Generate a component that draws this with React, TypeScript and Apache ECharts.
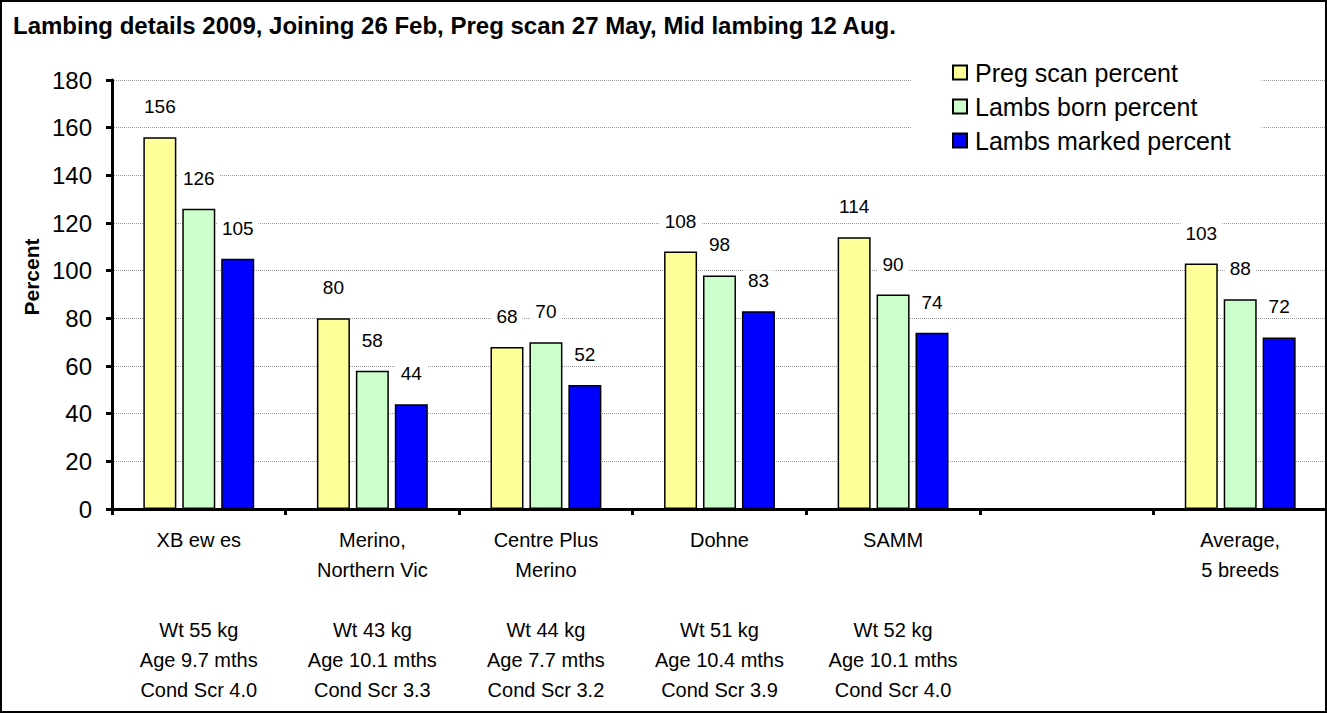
import React, { useEffect, useRef } from "react";
import * as echarts from "echarts";

const categories = [
  "XB ew es\n\n\nWt 55 kg\nAge 9.7 mths\nCond Scr 4.0",
  "Merino,\nNorthern Vic\n\nWt 43 kg\nAge 10.1 mths\nCond Scr 3.3",
  "Centre Plus\nMerino\n\nWt 44 kg\nAge 7.7 mths\nCond Scr 3.2",
  "Dohne\n\n\nWt 51 kg\nAge 10.4 mths\nCond Scr 3.9",
  "SAMM\n\n\nWt 52 kg\nAge 10.1 mths\nCond Scr 4.0",
  "",
  "Average,\n5 breeds\n\n\n\n",
];
const pregScan = [156, 80, 68, 108, 114, null, 103];
const lambsBorn = [126, 58, 70, 98, 90, null, 88];
const lambsMarked = [105, 44, 52, 83, 74, null, 72];
const seriesNames = ["Preg scan percent", "Lambs born percent", "Lambs marked percent"];
const colors = ["#FFFF99", "#CCFFCC", "#0000FF"];

const FONT = "'Liberation Sans', Arial, sans-serif";

export default function App() {
  const ref = useRef<HTMLDivElement>(null);
  useEffect(() => {
    const chart = echarts.init(ref.current!, null, { renderer: "svg" });
    const data = [pregScan, lambsBorn, lambsMarked];
    chart.setOption({
      animation: false,
      title: {
        text: "Lambing details 2009, Joining 26 Feb, Preg scan 27 May, Mid lambing 12 Aug.",
        left: 8,
        top: 8,
        textStyle: { fontFamily: FONT, fontSize: 24, fontWeight: "bold", color: "#000" },
      },
      legend: {
        orient: "vertical",
        left: 912,
        top: 54,
        padding: [6, 30, 8, 40],
        backgroundColor: "#fff",
        itemWidth: 14,
        itemHeight: 14,
        itemGap: 9,
        icon: "rect",
        textStyle: { fontFamily: FONT, fontSize: 25, color: "#000", padding: [0, 0, 0, 3] },
        data: seriesNames,
      },
      grid: { left: 112, width: 1218, top: 80, bottom: 204 },
      xAxis: {
        type: "category",
        data: categories,
        axisLine: { lineStyle: { color: "#000", width: 3 } },
        axisTick: { show: true, interval: 0, length: 6, lineStyle: { color: "#000", width: 3 } },
        axisLabel: {
          interval: 0,
          margin: 16,
          fontFamily: FONT,
          fontSize: 20,
          lineHeight: 30,
          color: "#000",
          verticalAlign: "top",
        },
      },
      yAxis: {
        type: "value",
        min: 0,
        max: 180,
        interval: 20,
        axisLine: { show: true, lineStyle: { color: "#000", width: 3 } },
        axisTick: { show: true, length: 6, lineStyle: { color: "#000", width: 3 } },
        axisLabel: { fontFamily: FONT, fontSize: 24, color: "#000", margin: 20 },
        splitLine: { show: true, lineStyle: { color: "#999", type: "dotted", width: 1 } },
      },
      series: seriesNames.map((name, i) => ({
        name,
        type: "bar",
        data: data[i],
        barWidth: 33,
        barGap: "18%",
        itemStyle: { color: colors[i], borderColor: "#000", borderWidth: 1.5 },
        label: {
          show: true,
          position: "top",
          distance: 20,
          fontFamily: FONT,
          fontSize: 19,
          color: "#000",
          backgroundColor: "#fff",
          padding: [1, 5],
        },
      })),
      graphic: [
        {
          type: "text",
          x: 31,
          y: 277,
          rotation: Math.PI / 2,
          style: {
            text: "Percent",
            fontFamily: FONT,
            fontSize: 21,
            fontWeight: "bold",
            fill: "#000",
            align: "center",
            verticalAlign: "middle",
          },
        },
        {
          type: "rect",
          shape: { x: 1, y: 1, width: 1325, height: 711 },
          style: { fill: "none", stroke: "#000", lineWidth: 2 },
          silent: true,
          z: 100,
        },
      ],
    });
    return () => chart.dispose();
  }, []);
  return (
    <div
      ref={ref}
      style={{ position: "fixed", left: 0, top: 0, width: 1327, height: 713, background: "#fff" }}
    />
  );
}
